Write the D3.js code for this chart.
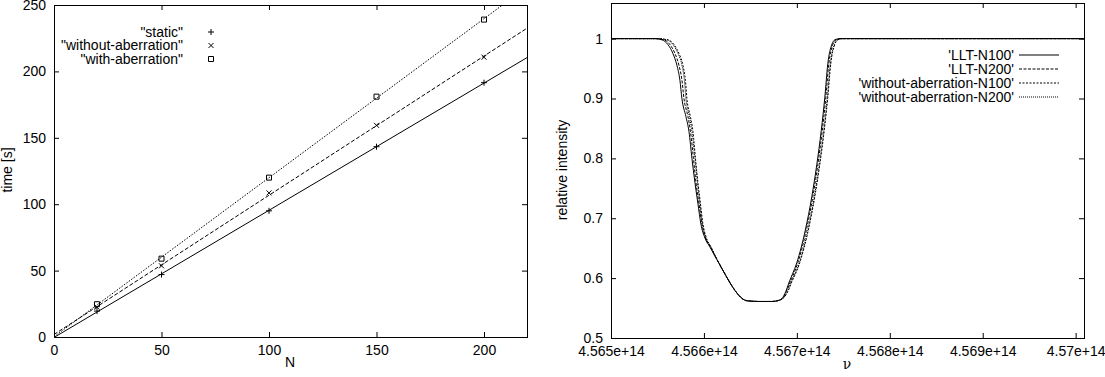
<!DOCTYPE html>
<html>
<head>
<meta charset="utf-8">
<script src="https://cdn.jsdelivr.net/npm/d3@7"></script>
<style>
  body { margin: 0; background: #fff; }
  text { font-family: "Liberation Sans", Arial, sans-serif; font-size: 14px; fill: #000; }
</style>
</head>
<body>
<div id="chart"></div>
<script>
// ---- left panel: timings ----
var nPoints = [20, 50, 100, 150, 200];
var tStatic = [19.5, 47, 95, 143.3, 191.5];
var tWithout = [22.4, 53.6, 108.5, 159.4, 210.7];
var tWith = [24.7, 59, 120, 181, 239];
var timeNames = ['"static"', '"without-aberration"', '"with-aberration"'];
var nTicks = [0, 50, 100, 150, 200];
var timeTicks = [0, 50, 100, 150, 200, 250];

// ---- right panel: line profiles ----
// relative intensity levels passed by every profile (down the blue wing, flat core, up the red wing)
var intensity = [1.0, 1.0, 0.998, 0.99, 0.975, 0.955, 0.93, 0.90, 0.87, 0.845,
  0.80, 0.76, 0.725, 0.69, 0.667, 0.652, 0.64, 0.622, 0.604, 0.587,
  0.573, 0.565, 0.562, 0.561, 0.561, 0.562, 0.566, 0.578, 0.592, 0.626,
  0.68, 0.736, 0.79, 0.847, 0.902, 0.958, 0.99, 0.998, 1.0, 1.0];
// frequency (in 1e14 Hz) where each profile reaches those levels
var nuLLT100 = [4.565000, 4.565473, 4.565548, 4.565613, 4.565667, 4.565710, 4.565742, 4.565763, 4.565806, 4.565839,
  4.565871, 4.565903, 4.565935, 4.565968, 4.566011, 4.566065, 4.566108, 4.566172, 4.566237, 4.566301,
  4.566366, 4.566419, 4.566473, 4.566602, 4.566731, 4.566785, 4.566839, 4.566882, 4.566914, 4.567000,
  4.567091, 4.567161, 4.567215, 4.567263, 4.567301, 4.567333, 4.567376, 4.567409, 4.567462, 4.570090];
var nuLLT200 = [4.565000, 4.565478, 4.565570, 4.565635, 4.565689, 4.565732, 4.565764, 4.565785, 4.565828, 4.565855,
  4.565887, 4.565914, 4.565946, 4.565979, 4.566016, 4.566070, 4.566108, 4.566172, 4.566237, 4.566301,
  4.566366, 4.566419, 4.566473, 4.566602, 4.566731, 4.566785, 4.566844, 4.566887, 4.566925, 4.567011,
  4.567102, 4.567172, 4.567226, 4.567274, 4.567312, 4.567344, 4.567387, 4.567420, 4.567473, 4.570090];
var nuWithout100 = [4.565000, 4.565495, 4.565613, 4.565678, 4.565732, 4.565775, 4.565801, 4.565817, 4.565854, 4.565882,
  4.565909, 4.565935, 4.565962, 4.565990, 4.566027, 4.566076, 4.566113, 4.566172, 4.566237, 4.566301,
  4.566366, 4.566419, 4.566473, 4.566602, 4.566731, 4.566785, 4.566850, 4.566904, 4.566941, 4.567032,
  4.567123, 4.567193, 4.567247, 4.567295, 4.567333, 4.567365, 4.567408, 4.567441, 4.567494, 4.570090];
var nuWithout200 = [4.565000, 4.565489, 4.565602, 4.565667, 4.565721, 4.565764, 4.565790, 4.565806, 4.565844, 4.565871,
  4.565903, 4.565930, 4.565957, 4.565984, 4.566022, 4.566076, 4.566113, 4.566172, 4.566237, 4.566301,
  4.566366, 4.566419, 4.566473, 4.566602, 4.566731, 4.566785, 4.566850, 4.566898, 4.566936, 4.567027,
  4.567118, 4.567188, 4.567242, 4.567290, 4.567328, 4.567360, 4.567403, 4.567436, 4.567489, 4.570090];
var profileNames = ["'LLT-N100'", "'LLT-N200'", "'without-aberration-N100'", "'without-aberration-N200'"];
var nuTicks = [4.565, 4.566, 4.567, 4.568, 4.569, 4.570];
var nuTickLabels = ["4.565e+14", "4.566e+14", "4.567e+14", "4.568e+14", "4.569e+14", "4.57e+14"];
var intensityTicks = [0.5, 0.6, 0.7, 0.8, 0.9, 1.0];
var intensityTickLabels = ["0.5", "0.6", "0.7", "0.8", "0.9", "1"];

var svg = d3.select("#chart").append("svg")
  .attr("width", 1105)
  .attr("height", 377);

// gnuplot style: ticks point inward on all four sides
function frame(g, x, y, xt, yt, xfmt, yfmt) {
  var w = x.range()[1] - x.range()[0], h = y.range()[0] - y.range()[1];
  g.append("g").attr("transform", "translate(0," + h + ")")
    .call(d3.axisBottom(x).tickValues(xt).tickSize(-5).tickPadding(8).tickFormat(xfmt));
  g.append("g")
    .call(d3.axisTop(x).tickValues(xt).tickSize(-5).tickFormat(""));
  g.append("g")
    .call(d3.axisLeft(y).tickValues(yt).tickSize(-5).tickPadding(8).tickFormat(yfmt));
  g.append("g").attr("transform", "translate(" + w + ",0)")
    .call(d3.axisRight(y).tickValues(yt).tickSize(-5).tickFormat(""));
  g.selectAll(".domain").remove();
  g.selectAll(".tick line").attr("stroke", "#000");
  g.selectAll(".tick text").style("font-size", "14px").attr("fill", "#000");
  g.append("rect").attr("width", w).attr("height", h)
    .attr("fill", "none").attr("stroke", "#000").attr("shape-rendering", "crispEdges");
}

// ---------- left chart ----------
var m1 = {left: 54, top: 5, width: 473, height: 332};
var g1 = svg.append("g").attr("transform", "translate(" + m1.left + "," + m1.top + ")");
var x1 = d3.scaleLinear().domain([0, 220]).range([0, m1.width]);
var y1 = d3.scaleLinear().domain([0, 250]).range([m1.height, 0]);
frame(g1, x1, y1, nTicks, timeTicks, d3.format("d"), d3.format("d"));

g1.append("clipPath").attr("id", "clip1").append("rect")
  .attr("width", m1.width).attr("height", m1.height);

var timeSeries = [
  {name: timeNames[0], t: tStatic, dash: null, marker: "M-3,0H3M0,-3V3"},
  {name: timeNames[1], t: tWithout, dash: "4,2", marker: "M-2.5,-2.5L2.5,2.5M-2.5,2.5L2.5,-2.5"},
  {name: timeNames[2], t: tWith, dash: "1.5,1.5", marker: "M-2.5,-2.5H2.5V2.5H-2.5Z"}
];

timeSeries.forEach(function(s, i) {
  // least squares fit line through the measured timings
  var mx = d3.mean(nPoints), my = d3.mean(s.t);
  var sxy = d3.sum(nPoints, function(n, k) { return (n - mx) * (s.t[k] - my); });
  var sxx = d3.sum(nPoints, function(n) { return (n - mx) * (n - mx); });
  var slope = sxy / sxx, icpt = my - slope * mx;
  g1.append("line")
    .attr("clip-path", "url(#clip1)")
    .attr("x1", x1(0)).attr("y1", y1(icpt))
    .attr("x2", x1(220)).attr("y2", y1(icpt + slope * 220))
    .attr("stroke", "#000").attr("stroke-width", 1)
    .attr("stroke-dasharray", s.dash);

  g1.selectAll(".pt" + i)
    .data(nPoints)
    .enter()
    .append("path")
    .attr("transform", function(n, k) { return "translate(" + x1(n) + "," + y1(s.t[k]) + ")"; })
    .attr("d", s.marker)
    .attr("fill", "none").attr("stroke", "#000").attr("stroke-width", 1);

  // legend
  g1.append("text").attr("x", 129).attr("y", 27 + i * 13.5).attr("dy", "0.35em")
    .attr("text-anchor", "end").text(s.name);
  g1.append("path").attr("transform", "translate(157," + (27 + i * 13.5) + ")")
    .attr("d", s.marker).attr("fill", "none").attr("stroke", "#000");
});

svg.append("text").attr("transform", "translate(12,170)rotate(-90)")
  .attr("text-anchor", "middle").text("time [s]");
svg.append("text").attr("x", 290).attr("y", 367).attr("text-anchor", "middle").text("N");

// ---------- right chart ----------
var m2 = {left: 611, top: 3, width: 473, height: 335};
var g2 = svg.append("g").attr("transform", "translate(" + m2.left + "," + m2.top + ")");
var x2 = d3.scaleLinear().domain([4.565, 4.57009]).range([0, m2.width]);
var y2 = d3.scaleLinear().domain([0.5, 1.0595]).range([m2.height, 0]);
frame(g2, x2, y2, nuTicks, intensityTicks,
  function(d, i) { return nuTickLabels[i]; },
  function(d, i) { return intensityTickLabels[i]; });

var profiles = [
  {name: profileNames[0], nu: nuLLT100, dash: null},
  {name: profileNames[1], nu: nuLLT200, dash: "3,1.5"},
  {name: profileNames[2], nu: nuWithout100, dash: "2,1.5"},
  {name: profileNames[3], nu: nuWithout200, dash: "1,1"}
];

var line = d3.line()
  .x(function(d) { return x2(d[0]); })
  .y(function(d) { return y2(d[1]); })
  .curve(d3.curveMonotoneX);

profiles.forEach(function(p, i) {
  g2.append("path")
    .datum(d3.zip(p.nu, intensity))
    .attr("d", line)
    .attr("fill", "none").attr("stroke", "#000").attr("stroke-width", 1)
    .attr("stroke-dasharray", p.dash);

  var ly = 55 + i * 14 - m2.top;
  g2.append("text").attr("x", 403).attr("y", ly).attr("dy", "0.35em")
    .attr("text-anchor", "end").text(p.name);
  g2.append("line").attr("x1", 408).attr("x2", 448).attr("y1", ly).attr("y2", ly)
    .attr("stroke", "#000").attr("stroke-dasharray", p.dash);
});

svg.append("text").attr("transform", "translate(567,170)rotate(-90)")
  .attr("text-anchor", "middle").text("relative intensity");
svg.append("text").attr("x", 847).attr("y", 369).attr("text-anchor", "middle")
  .style("font-family", "'DejaVu Serif', serif").text("\u03bd");
</script>
</body>
</html>
